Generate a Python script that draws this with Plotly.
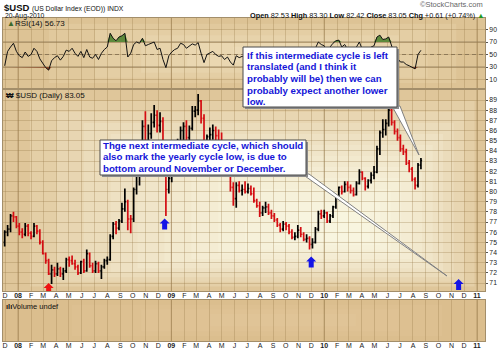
import pandas as pd
import plotly.graph_objects as go

W, H = 500, 352
FONT = "Liberation Sans, Arial, sans-serif"

# ---------------- data (weekly OHLC) ----------------
week_end = pd.date_range("2007-11-30", periods=143, freq="7D")

opens = [75.0, 76.0, 76.3, 77.6, 77.5, 76.6, 76.0, 75.8, 76.6, 75.9,
         75.6, 76.6, 76.1, 75.0, 73.9, 73.2, 71.9, 72.3, 71.9, 72.4,
         71.9, 72.2, 73.3, 73.2, 72.9, 72.6, 72.0, 73.1, 72.2, 73.9,
         72.7, 72.2, 72.9, 72.2, 72.6, 73.2, 73.3, 75.6, 76.8, 76.4,
         77.1, 78.3, 79.0, 77.3, 77.3, 80.2, 82.0, 82.7, 86.4, 84.4,
         85.7, 86.8, 87.5, 86.5, 86.9, 82.9, 80.2, 81.3, 82.6, 83.9,
         84.3, 86.0, 86.4, 85.3, 86.2, 87.9, 88.0, 88.9, 87.2, 84.0,
         85.4, 85.6, 86.0, 85.5, 84.9, 84.3, 82.3, 82.8, 80.4, 79.3,
         80.6, 80.1, 80.2, 80.0, 80.3, 79.8, 79.1, 78.6, 77.9, 78.4,
         78.5, 77.9, 77.6, 77.2, 76.7, 76.3, 76.8, 76.6, 76.0, 75.5,
         75.6, 76.2, 75.8, 75.3, 75.4, 74.8, 75.0, 76.3, 77.8, 77.6,
         77.9, 77.1, 77.6, 78.5, 79.5, 80.4, 80.0, 80.7, 80.4, 80.1,
         79.7, 80.8, 81.9, 81.3, 80.5, 81.1, 81.6, 81.9, 84.2, 85.8,
         86.1, 86.7, 88.0, 86.8, 85.9, 85.3, 84.2, 83.9, 82.8, 82.2,
         81.2, 80.6, 82.6]
highs = [76.2, 76.7, 77.8, 78.0, 77.6, 76.9, 76.4, 76.9, 76.8, 76.1,
         76.9, 76.7, 76.3, 75.2, 74.0, 73.4, 72.8, 72.6, 73.0, 72.6,
         72.5, 73.5, 73.6, 73.7, 73.3, 72.8, 73.2, 73.4, 74.3, 74.0,
         73.0, 73.2, 73.1, 72.8, 73.4, 73.6, 75.8, 77.0, 77.1, 77.3,
         78.9, 80.3, 79.2, 77.7, 80.4, 82.5, 83.2, 87.0, 87.9, 86.6,
         87.7, 88.5, 88.0, 87.8, 87.3, 83.2, 81.6, 83.0, 84.4, 85.2,
         86.4, 86.8, 87.0, 86.5, 88.4, 88.4, 89.6, 89.0, 87.6, 85.6,
         86.3, 86.6, 86.4, 86.1, 85.8, 84.6, 83.0, 82.9, 80.9, 80.9,
         81.0, 80.7, 81.0, 80.8, 80.6, 80.4, 79.3, 79.0, 78.6, 79.0,
         78.8, 78.2, 77.9, 77.4, 76.9, 77.1, 77.0, 76.8, 76.3, 76.0,
         76.7, 76.5, 76.0, 75.8, 75.6, 75.4, 76.5, 78.1, 78.2, 78.2,
         78.0, 77.8, 78.6, 79.6, 80.5, 80.6, 81.0, 81.0, 80.7, 80.4,
         81.0, 82.2, 82.0, 81.4, 81.2, 81.9, 82.5, 84.5, 86.0, 87.1,
         87.1, 88.2, 88.3, 87.0, 86.2, 85.6, 84.6, 84.2, 83.1, 82.4,
         81.4, 82.8, 83.3]
lows = [74.6, 75.6, 76.0, 77.0, 76.4, 75.7, 75.4, 75.6, 75.6, 75.3,
        75.5, 75.8, 74.8, 73.8, 72.9, 71.8, 70.9, 71.6, 71.7, 71.6,
        71.3, 72.0, 72.6, 72.8, 72.3, 71.8, 71.9, 72.0, 72.1, 72.5,
        72.0, 72.0, 72.0, 71.4, 72.4, 72.8, 73.2, 75.3, 75.8, 76.2,
        76.9, 78.0, 76.2, 75.9, 77.0, 79.7, 80.6, 82.5, 83.9, 84.0,
        85.2, 86.3, 85.8, 85.8, 82.4, 77.6, 79.8, 80.9, 82.2, 83.2,
        84.0, 84.9, 85.0, 84.9, 86.0, 87.3, 87.5, 86.7, 82.8, 83.7,
        84.9, 85.1, 85.0, 84.6, 84.1, 82.1, 81.8, 80.0, 78.6, 78.4,
        79.9, 79.6, 79.8, 79.8, 79.6, 78.9, 78.4, 77.5, 77.6, 77.9,
        77.7, 77.3, 77.0, 76.5, 76.0, 76.1, 76.2, 75.8, 75.3, 75.2,
        75.4, 75.5, 75.1, 75.0, 74.3, 74.4, 74.9, 76.1, 77.3, 77.4,
        76.9, 76.9, 77.4, 78.3, 79.2, 79.7, 79.9, 80.0, 79.8, 79.5,
        79.6, 80.7, 81.1, 80.1, 80.3, 80.8, 81.2, 81.8, 83.6, 85.3,
        85.5, 86.4, 86.5, 85.6, 85.0, 83.9, 83.6, 82.6, 81.9, 81.0,
        80.2, 80.4, 82.2]
closes = [76.0, 76.3, 77.6, 77.5, 76.6, 76.0, 75.8, 76.6, 75.9, 75.6,
          76.6, 76.1, 75.0, 73.9, 73.2, 71.9, 72.3, 71.9, 72.4, 71.9,
          72.2, 73.3, 73.2, 72.9, 72.6, 72.0, 73.1, 72.2, 73.9, 72.7,
          72.2, 72.9, 72.2, 72.6, 73.2, 73.3, 75.6, 76.8, 76.4, 77.1,
          78.3, 79.0, 77.3, 77.3, 80.2, 82.0, 82.7, 86.4, 84.4, 85.7,
          86.8, 87.5, 86.5, 86.9, 82.9, 80.2, 81.3, 82.6, 83.9, 84.3,
          86.0, 86.4, 85.3, 86.2, 87.9, 88.0, 88.9, 87.2, 84.0, 85.4,
          85.6, 86.0, 85.5, 84.9, 84.3, 82.3, 82.8, 80.4, 79.3, 80.6,
          80.1, 80.2, 80.0, 80.3, 79.8, 79.1, 78.6, 77.9, 78.4, 78.5,
          77.9, 77.6, 77.2, 76.7, 76.3, 76.8, 76.6, 76.0, 75.5, 75.6,
          76.2, 75.8, 75.3, 75.4, 74.8, 75.0, 76.3, 77.8, 77.6, 77.9,
          77.1, 77.6, 78.5, 79.5, 80.4, 80.0, 80.7, 80.4, 80.1, 79.7,
          80.8, 81.9, 81.3, 80.5, 81.1, 81.6, 81.9, 84.2, 85.8, 86.1,
          86.7, 88.0, 86.8, 85.9, 85.3, 84.2, 83.9, 82.8, 82.2, 81.2,
          80.6, 82.6, 83.05]
rsi14 = [32, 55, 62, 68, 55, 48, 45, 54, 47, 50,
         60, 55, 43, 35, 29, 25, 40, 45, 48, 41,
         47, 57, 55, 60, 52, 47, 55, 45, 58, 46,
         44, 50, 42, 52, 58, 62, 84, 76, 72, 78,
         80, 84, 46, 52, 66, 70, 68, 76, 64, 66,
         68, 70, 58, 60, 42, 29, 48, 54, 58, 60,
         68, 66, 60, 63, 67, 65, 69, 52, 37, 50,
         53, 55, 50, 47, 48, 42, 46, 38, 33, 48,
         45, 47, 46, 50, 44, 40, 38, 36, 45, 48,
         42, 40, 38, 35, 34, 44, 42, 36, 34, 38,
         48, 42, 36, 40, 32, 42, 60, 70, 66, 64,
         54, 62, 68, 72, 73, 62, 66, 58, 55, 50,
         62, 70, 58, 50, 58, 62, 64, 78, 81, 74,
         75, 78, 62, 50, 44, 38, 38, 34, 32, 30,
         27, 50, 56.73]

month_ticks = pd.date_range("2007-12-01", "2011-01-01", freq="MS")
month_letters = ["J", "F", "M", "A", "M", "J", "J", "A", "S", "O", "N", "D"]
tick_text = [f"<b>{d.strftime('%y')}</b>" if d.month == 1 else month_letters[d.month - 1]
             for d in month_ticks]
year_starts = ["2008-01-01", "2009-01-01", "2010-01-01", "2011-01-01"]
price_ticks = list(range(71, 90))
rsi_ticks = [10, 30, 50, 70, 90]

arrow_dates = ["2008-03-14", "2008-12-16", "2009-12-01", "2010-11-18"]
arrow_prices = [71.0, 77.35, 73.6, 71.4]
arrow_colors = ["#ee1111", "#1414e6", "#1414e6", "#1414e6"]

note1 = ["Thge next intermediate cycle, which should",
         "also mark the yearly cycle low, is due to",
         "bottom around November or December."]
note2 = ["If this intermediate cycle is left",
         "translated (and I think it",
         "probably will be) then we can",
         "probably expect another lower",
         "low."]

# ---------------- layout helpers ----------------
def xp(px):
    return px / W


def yp(py):
    return 1 - py / H


PL, PR = 3, 485
RSI_T, RSI_B = 18, 88
PR_T, PR_B = 90, 291
VOL_T, VOL_B = 300, 341
X_RANGE = ["2007-11-26", "2011-01-20"]

fig = go.Figure()

fig.add_trace(go.Ohlc(
    x=week_end, open=opens, high=highs, low=lows, close=closes,
    increasing=dict(line=dict(color="#000000", width=1.7)),
    decreasing=dict(line=dict(color="#d40d12", width=1.7)),
    tickwidth=0.4, xaxis="x", yaxis="y", hoverinfo="skip"))

# RSI fills
fig.add_trace(go.Scatter(x=week_end, y=[70] * len(rsi14), mode="lines",
                         line=dict(width=0), xaxis="x2", yaxis="y2", hoverinfo="skip"))
fig.add_trace(go.Scatter(x=week_end, y=[max(v, 70) for v in rsi14], mode="lines",
                         line=dict(width=0), fill="tonexty", fillcolor="#5d8a3c",
                         xaxis="x2", yaxis="y2", hoverinfo="skip"))
fig.add_trace(go.Scatter(x=week_end, y=[30] * len(rsi14), mode="lines",
                         line=dict(width=0), xaxis="x2", yaxis="y2", hoverinfo="skip"))
fig.add_trace(go.Scatter(x=week_end, y=[min(v, 30) for v in rsi14], mode="lines",
                         line=dict(width=0), fill="tonexty", fillcolor="#8e4a2a",
                         xaxis="x2", yaxis="y2", hoverinfo="skip"))
fig.add_trace(go.Scatter(x=week_end, y=rsi14, mode="lines",
                         line=dict(color="#111111", width=1),
                         xaxis="x2", yaxis="y2", hoverinfo="skip"))
# empty volume panel trace (volume undefined)
fig.add_trace(go.Scatter(x=[week_end[0]], y=[None], mode="lines",
                         xaxis="x3", yaxis="y3", hoverinfo="skip"))

shapes = []


def glow(x0, y0, x1, y1, cx, cy, n, color, op):
    for k in range(n):
        t = 0.93 * k / n
        shapes.append(dict(type="rect", xref="paper", yref="paper", layer="below",
                           x0=xp(x0 + (cx - x0) * t), x1=xp(x1 - (x1 - cx) * t),
                           y0=yp(y1 - (y1 - cy) * t), y1=yp(y0 + (cy - y0) * t),
                           fillcolor=color, opacity=op, line=dict(width=0)))


glow(PL, RSI_T, PR, RSI_B, 300, 55, 6, "#fff6dc", 0.12)
glow(PL, PR_T, PR, PR_B, 350, 232, 12, "#fffcec", 0.16)
glow(PL, VOL_T, PR, VOL_B, 300, 320, 4, "#fff0d0", 0.06)

for (t, b) in ((PR_T, PR_B), (RSI_T, RSI_B), (VOL_T, VOL_B)):
    for ys in year_starts:
        shapes.append(dict(type="line", xref="x", yref="paper", layer="below",
                           x0=ys, x1=ys, y0=yp(b), y1=yp(t),
                           line=dict(color="rgba(130,100,55,0.45)", width=1)))

for lvl in (70, 30):
    shapes.append(dict(type="line", xref="paper", yref="y2", x0=xp(PL), x1=xp(PR),
                       y0=lvl, y1=lvl, layer="below",
                       line=dict(color="#9c8662", width=1)))
shapes.append(dict(type="line", xref="paper", yref="y2", x0=xp(PL), x1=xp(PR),
                   y0=50, y1=50, layer="below",
                   line=dict(color="#8c7a60", width=1, dash="4px,3px")))

# block arrows
for d, p, c in zip(arrow_dates, arrow_prices, arrow_colors):
    shapes.append(dict(type="path", xref="x", yref="y", xsizemode="pixel", ysizemode="pixel",
                       xanchor=d, yanchor=p,
                       path="M0,0 L5,-5 L2.5,-5 L2.5,-11 L-2.5,-11 L-2.5,-5 L-5,-5 Z",
                       fillcolor=c, line=dict(width=0)))


def poly(pts):
    return "M" + " L".join(f"{xp(a):.5f},{yp(b):.5f}" for a, b in pts) + " Z"


def callout(x0, y0, x1, y1, tail):
    shapes.append(dict(type="path", xref="paper", yref="paper", path=poly(tail),
                       fillcolor="#ffffff", line=dict(color="#808080", width=1)))
    shapes.append(dict(type="rect", xref="paper", yref="paper",
                       x0=xp(x0 + 2), x1=xp(x1 + 2), y0=yp(y1 + 2), y1=yp(y0 + 2),
                       fillcolor="#8a8a8a", line=dict(width=0)))
    shapes.append(dict(type="rect", xref="paper", yref="paper",
                       x0=xp(x0), x1=xp(x1), y0=yp(y1), y1=yp(y0),
                       fillcolor="#ffffff", line=dict(color="#4a4a4a", width=1)))


callout(100, 140, 306, 175, [(302, 174), (447, 276), (309, 174)])
callout(243, 47, 397, 107, [(392, 106), (419, 155), (400, 106)])

annotations = []


def txt(x, y, s, size, color="#111111", anchor="left"):
    annotations.append(dict(x=xp(x), y=yp(y), xref="paper", yref="paper", text=s,
                            showarrow=False, xanchor=anchor, yanchor="middle",
                            font=dict(size=size, color=color, family=FONT)))


for i, line in enumerate(note1):
    txt(101, 145.5 + i * 11.3, f"<b>{line}</b>", 9.7, "#1515d8")
for i, line in enumerate(note2):
    txt(245, 55 + i * 11.7, f"<b>{line}</b>", 9.7, "#1515d8")

txt(2, 7, "<b>$USD</b> <span style='font-size:6.8px'>(US Dollar Index (EOD)) INDX</span>", 9.5)
txt(3, 16, "20-Aug-2010", 6.8)
txt(485, 5, "©StockCharts.com", 7.5, "#666666", anchor="right")
txt(486, 16, "<b>Open</b> 82.53 <b>High</b> 83.30 <b>Low</b> 82.42 <b>Close</b> 83.05 "
    "<b>Chg</b> +0.61 (+0.74%) <span style='color:#1f9a1f'>▲</span>", 7.3, anchor="right")
txt(5, 24, "<span style='color:#3c6a2a'>▲</span>RSI(14) 56.73", 8)
txt(4, 95, "<b>₩</b> $USD (Daily) 83.05", 8)
txt(4, 306, "<b>ılı</b>Volume undef", 7.5)

fig.update_layout(shapes=shapes, annotations=annotations)

grid = "rgba(150,118,68,0.30)"
frame = "#a38e6a"
xcommon = dict(type="date", range=X_RANGE, domain=[xp(PL), xp(PR)],
               tickmode="array", tickvals=month_ticks, ticktext=tick_text,
               showgrid=True, gridcolor=grid, gridwidth=1,
               showline=True, mirror=True, linecolor=frame, linewidth=1,
               ticks="", ticklabelstandoff=-2,
               tickfont=dict(size=7, family=FONT, color="#222222"),
               zeroline=False, fixedrange=True)
fig.update_layout(
    width=W, height=H, margin=dict(l=0, r=0, t=0, b=0),
    paper_bgcolor="#ffffff", plot_bgcolor="#d9bc8b",
    showlegend=False, hovermode=False,
    font=dict(family=FONT, color="#111111"),
    xaxis=dict(xcommon, anchor="y", rangeslider=dict(visible=False)),
    xaxis2=dict(xcommon, anchor="y2", showticklabels=False),
    xaxis3=dict(xcommon, anchor="y3"),
    yaxis=dict(domain=[yp(PR_B), yp(PR_T)], range=[70.219, 89.983], side="right",
               tickmode="array", tickvals=price_ticks, showgrid=True, gridcolor=grid,
               showline=True, mirror=True, linecolor=frame, ticks="outside", ticklen=2,
               tickcolor="#555555", tickfont=dict(size=6.8, family=FONT, color="#222222"),
               zeroline=False, anchor="x"),
    yaxis2=dict(domain=[yp(RSI_B), yp(RSI_T)], range=[-3.6, 108.4], side="right",
                tickmode="array", tickvals=rsi_ticks, showgrid=True, gridcolor=grid,
                showline=True, mirror=True, linecolor=frame, ticks="outside", ticklen=2,
                tickcolor="#555555", tickfont=dict(size=6.8, family=FONT, color="#222222"),
                zeroline=False, anchor="x2"),
    yaxis3=dict(domain=[yp(VOL_B), yp(VOL_T)], range=[0, 1], side="right",
                showticklabels=False, showgrid=False, showline=True, mirror=True,
                linecolor=frame, zeroline=False, anchor="x3"),
)

fig.write_html("out.html")
